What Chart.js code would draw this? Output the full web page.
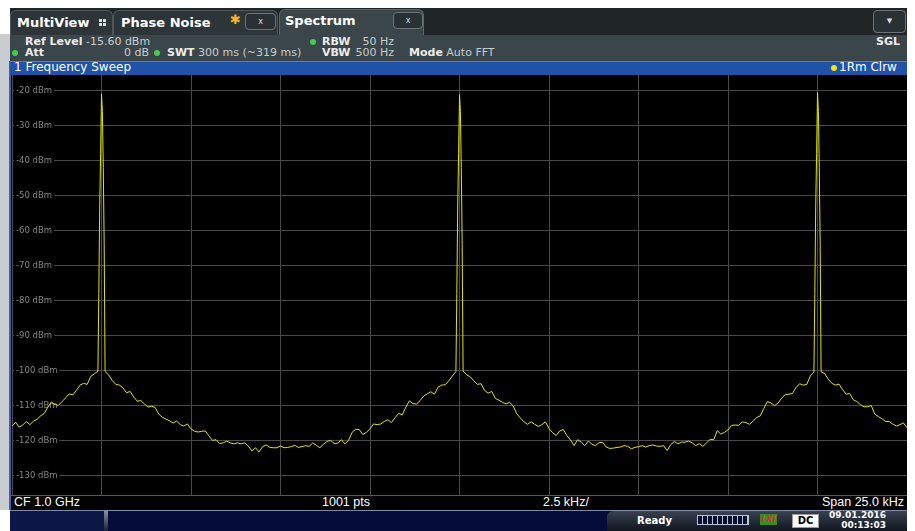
<!DOCTYPE html>
<html><head><meta charset="utf-8">
<script src="https://cdn.jsdelivr.net/npm/chart.js@4.4.1/dist/chart.umd.min.js"></script>
<style>
body{margin:0;background:#fff;width:915px;height:531px;overflow:hidden;position:relative;font-family:'DejaVu Sans',sans-serif;}
.a{position:absolute;white-space:nowrap;}
.tab{position:absolute;border:1px solid #50585c;border-bottom:none;border-radius:6px 6px 0 0;box-sizing:border-box;}
.tt{position:absolute;font-weight:bold;font-size:13px;color:#fff;line-height:14px;}
.xb{position:absolute;background:#2a3134;border:1px solid #6c7478;border-radius:4px;box-sizing:border-box;color:#ddd;font-size:8px;text-align:center;line-height:15px;}
.lb{font-weight:bold;color:#ececec;}
.hv{color:#c9cccd;}
.h{position:absolute;font-size:11px;line-height:12px;white-space:nowrap;}
.dot{position:absolute;width:6px;height:6px;border-radius:3px;background:#3fcf4a;}
.bt{position:absolute;font-family:'Liberation Sans',Arial,sans-serif;font-size:12.5px;color:#fff;line-height:13px;white-space:nowrap;}
</style></head><body>
<div class="a" style="left:0;top:34px;width:10px;height:476px;background:#c9cdd1"></div>
<div class="a" style="left:9px;top:61px;width:2px;height:449px;background:#3b64b0"></div>
<!-- tab bar -->
<div class="a" style="left:10px;top:8px;width:897px;height:27px;background:#202528"></div>
<div class="tab" style="left:10px;top:10px;width:103px;height:25px;background:#2e3538"></div>
<div class="tt" style="left:17px;top:16px">MultiView</div>
<div class="a" style="left:99px;top:19px;width:3px;height:3px;background:#ddd"></div>
<div class="a" style="left:103px;top:19px;width:3px;height:3px;background:#ddd"></div>
<div class="a" style="left:99px;top:23px;width:3px;height:3px;background:#ddd"></div>
<div class="a" style="left:103px;top:23px;width:3px;height:3px;background:#ddd"></div>
<div class="tab" style="left:113px;top:10px;width:165px;height:25px;background:#2e3538"></div>
<div class="tt" style="left:121px;top:16px">Phase Noise</div>
<div class="a" style="left:230px;top:13px;font-size:13px;color:#f5b82a;line-height:14px">&#10033;</div>
<div class="xb" style="left:245px;top:13px;width:31px;height:17px">x</div>
<div class="tab" style="left:279px;top:9px;width:145px;height:27px;background:#3a4649;border-color:#5a666a"></div>
<div class="tt" style="left:285px;top:14px">Spectrum</div>
<div class="xb" style="left:393px;top:12px;width:30px;height:17px">x</div>
<div class="xb" style="left:873px;top:10px;width:33px;height:23px;line-height:21px;font-size:7px">&#9660;</div>
<!-- info area -->
<div class="a" style="left:10px;top:35px;width:897px;height:26px;background:#3a4649"></div>
<div class="h" style="left:25px;top:36px"><span class="lb">Ref Level</span> <span class="hv">-15.60 dBm</span></div>
<div class="dot" style="left:12px;top:50px"></div>
<div class="h lb" style="left:25px;top:47px">Att</div>
<div class="h hv" style="left:100px;top:47px;width:49px;text-align:right">0 dB</div>
<div class="dot" style="left:154px;top:50px"></div>
<div class="h" style="left:167px;top:47px"><span class="lb">SWT</span> <span class="hv">300 ms (~319 ms)</span></div>
<div class="dot" style="left:310px;top:39px"></div>
<div class="h lb" style="left:322px;top:36px">RBW</div>
<div class="h hv" style="left:350px;top:36px;width:44px;text-align:right">50 Hz</div>
<div class="h lb" style="left:322px;top:47px">VBW</div>
<div class="h hv" style="left:350px;top:47px;width:44px;text-align:right">500 Hz</div>
<div class="h" style="left:409px;top:47px"><span class="lb">Mode</span> <span class="hv">Auto FFT</span></div>
<div class="h lb" style="left:860px;top:36px;width:40px;text-align:right">SGL</div>
<!-- title bar -->
<div class="a" style="left:10px;top:61px;width:897px;height:14px;background:#2052a8;border-top:1px solid #4b7fd4;box-sizing:border-box"></div>
<div class="a" style="left:14px;top:60px;font-size:12px;color:#fff;line-height:14px">1 Frequency Sweep</div>
<div class="a" style="left:831px;top:65px;width:6px;height:6px;border-radius:3px;background:#f2e21a"></div>
<div class="a" style="left:839px;top:60px;font-size:12px;color:#fff;line-height:14px">1Rm Clrw</div>
<!-- plot -->
<div class="a" style="left:11px;top:75px;width:896px;height:420px;background:#000"></div>
<div class="a" style="left:12px;top:75px;width:895px;height:420px"><canvas id="c"></canvas></div>
<!-- bottom info -->
<div class="a" style="left:11px;top:495px;width:896px;height:15px;background:#000;border-top:1px solid #5a5a5a;box-sizing:border-box"></div>
<div class="bt" style="left:14px;top:496px">CF 1.0 GHz</div>
<div class="bt" style="left:322px;top:496px">1001 pts</div>
<div class="bt" style="left:543px;top:496px">2.5 kHz/</div>
<div class="bt" style="left:780px;top:496px;width:124px;text-align:right">Span 25.0 kHz</div>
<!-- status bar -->
<div class="a" style="left:10px;top:510px;width:897px;height:21px;background:#050c3a;border-top:1px solid #7d8aa8;box-sizing:border-box"></div>
<div class="a" style="left:10px;top:511px;width:95px;height:20px;background:#0c1748"></div>
<div class="a" style="left:104px;top:511px;width:4px;height:20px;background:linear-gradient(#8890a0,#1a2030)"></div>
<div class="a" style="left:607px;top:511px;width:300px;height:20px;background:linear-gradient(#3a4150,#10151f);border-radius:6px 0 0 0"></div>
<div class="a" style="left:637px;top:515px;font-size:10px;font-weight:bold;color:#fff;line-height:12px">Ready</div>
<div class="a" style="left:697px;top:515px;width:52px;height:10px;border:1px solid #b8c4dc;box-sizing:border-box;background:repeating-linear-gradient(90deg,#0a1030 0 4px,#b8c4dc 4px 5px)"></div>
<div class="a" style="left:760px;top:514px;width:17px;height:11px;background:#3a8a2a;color:#d33;font-size:8px;font-weight:bold;line-height:11px;text-align:center;font-style:italic">LXI</div>
<div class="a" style="left:792px;top:514px;width:27px;height:14px;background:#fff;border:1px solid #999;box-sizing:border-box;color:#000;font-size:10px;font-weight:bold;line-height:12px;text-align:center">DC</div>
<div class="a" style="left:826px;top:510px;width:60px;font-size:9px;font-weight:bold;color:#fff;line-height:10px;text-align:right">09.01.2016<br>00:13:03</div>
<script>
// sweep settings
const spanKHz = 25.0;
const refLevelDbm = -15.6;
const rangeDb = 120;
const yTickValues = [-20, -30, -40, -50, -60, -70, -80, -90, -100, -110, -120, -130];
const xGridKHz = [-12.5, -10, -7.5, -5, -2.5, 0, 2.5, 5, 7.5, 10, 12.5];
// trace levels (dBm), one per 0.1 kHz from -12.5 to +12.5 kHz
const traceDbm = [
-116,-114.8,-116.2,-115.6,-114.6,-115.5,-114.5,-114,-113,-112.3,
-110.5,-109,-109.8,-110,-108.9,-107.8,-106.7,-107,-105.7,-104.2,
-103.7,-104,-101.7,-101,-100.2,-21,-100.3,-101.3,-102.9,-104,
-104.2,-105,-106.4,-106,-107.6,-108.8,-108.6,-109.6,-110.5,-110.2,
-110.6,-112.5,-113.4,-113.9,-114.4,-115,-114.5,-115.5,-115.9,-115.3,
-116.7,-117.4,-117.6,-117.4,-117.3,-118.7,-120,-119.8,-120.9,-120.7,
-120.2,-120.7,-121,-120.7,-121,-120.7,-121.6,-123,-122.1,-123.3,
-121.8,-121.3,-122,-122.1,-122.1,-121.6,-122.1,-122,-121.8,-121.4,
-122,-121.8,-121.5,-121.7,-120.7,-121.4,-122.1,-121.1,-120.3,-120,
-120.9,-120.8,-119.8,-121,-120,-117.7,-116.8,-116.9,-118.3,-117.7,
-116.7,-115.3,-115.5,-115.3,-114.6,-114.1,-114.9,-113.5,-112.3,-112.7,
-110.5,-108.7,-109.5,-109.6,-108.6,-107.3,-106.7,-106.1,-106.8,-104.8,
-104.2,-104.1,-103,-101.6,-100.3,-21.2,-100.2,-101.3,-101.8,-103,
-104,-103.8,-105.7,-106.5,-106,-108,-108.5,-109.1,-109.6,-109.1,
-110.2,-112.4,-113.6,-114.7,-115.4,-114.7,-115.4,-116,-115.5,-114.7,
-116.6,-117.8,-118.6,-117.3,-116.9,-118.6,-119.9,-121.5,-119.8,-120.5,
-121.5,-120.2,-121.1,-121.5,-120.6,-120.6,-121.9,-122.3,-122.2,-122,
-121.9,-121.5,-121.7,-122.4,-122,-121.8,-121.5,-121.9,-121.5,-121.3,
-121.6,-121.7,-121.5,-122.9,-121.2,-120.3,-121,-120.5,-120.5,-120.2,
-120.7,-121.5,-120.9,-121.7,-120.7,-119.7,-119.8,-117.2,-118.2,-117.7,
-117,-115.7,-115.6,-115.7,-114.7,-114.9,-115.4,-114.5,-113.5,-113,
-110.9,-108.9,-109.3,-110.1,-109.3,-107.9,-106.9,-106.8,-106.6,-104.9,
-103.8,-104.2,-104,-101.6,-100.5,-20.6,-100.4,-100.9,-102.5,-103.7,
-104.2,-103.9,-105.5,-106.8,-106.6,-108.4,-108.9,-109.8,-110.4,-110.4,
-110,-112.5,-113.2,-113.8,-114.6,-114.6,-115.3,-115.9,-115.5,-115,
-116.4];
// fine detail of the three carriers
const peakCentersKHz = [-10, 0, 10];
const peakOffsetsKHz = [-0.075, -0.05, -0.025, 0.025, 0.05, 0.075];
const peakFlankDbm = [-78, -53, -38, -26, -42, -64];

const n = traceDbm.length;
const pts = traceDbm.map((v, i) => ({x: -spanKHz / 2 + i * spanKHz / (n - 1), y: v}));
peakCentersKHz.forEach(c => peakOffsetsKHz.forEach((o, j) => pts.push({x: c + o, y: peakFlankDbm[j]})));
pts.sort((a, b) => a.x - b.x);

new Chart(document.getElementById('c'), {
  type: 'line',
  data: {datasets: [{data: pts, borderColor: '#e4e400', borderWidth: 1, pointRadius: 0, tension: 0, fill: false}]},
  options: {
    responsive: true, maintainAspectRatio: false, animation: false,
    layout: {padding: 0},
    plugins: {legend: {display: false}, tooltip: {enabled: false}},
    scales: {
      x: {type: 'linear', min: -spanKHz / 2, max: spanKHz / 2,
        afterBuildTicks: s => { s.ticks = xGridKHz.map(v => ({value: v})); },
        afterFit: s => { s.height = 0; s.paddingLeft = 0; s.paddingRight = 0; },
        ticks: {display: false},
        grid: {color: '#4a4a4a', lineWidth: 1, drawTicks: false},
        border: {display: false}},
      y: {type: 'linear', min: refLevelDbm - rangeDb, max: refLevelDbm,
        afterBuildTicks: s => { s.ticks = yTickValues.map(v => ({value: v})); },
        afterFit: s => { s.width = 0; s.paddingTop = 0; s.paddingBottom = 0; },
        ticks: {mirror: true, padding: 4, color: '#858585', font: {family: 'DejaVu Sans', size: 8.5},
          showLabelBackdrop: true, backdropColor: '#000', backdropPadding: {x: 2, y: 1},
          callback: v => v + ' dBm'},
        grid: {color: '#4a4a4a', lineWidth: 1, drawTicks: false},
        border: {display: false}}
    }
  }
});
</script>
</body></html>
